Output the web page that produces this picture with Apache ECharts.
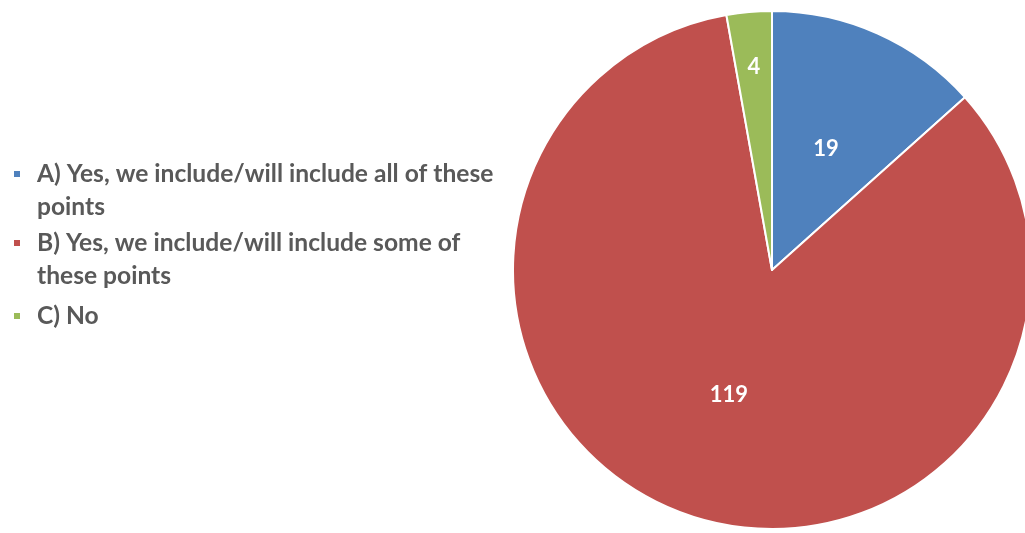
<!DOCTYPE html>
<html>
<head>
<meta charset="utf-8">
<script src="https://cdn.jsdelivr.net/npm/echarts@6/dist/echarts.min.js"></script>
<style>
  html, body { margin: 0; padding: 0; background: #ffffff; }
  #chart { width: 1025px; height: 533px; }
</style>
</head>
<body>
<div id="chart"></div>
<script>
// Survey answers and their response counts
const categories = [
  'A) Yes, we include/will include all of these points',
  'B) Yes, we include/will include some of these points',
  'C) No'
];
const counts = [19, 119, 4];
const colors = ['#4F81BD', '#C0504D', '#9BBB59'];

// y of each legend entry's first line
const legendTops = [174, 243, 316];

const FONT = 'Lato, "Open Sans", sans-serif';
const LEGEND_SIZE = 24.6;
const LINE_H = 33;
const WRAP_W = 470;

// word-wrap a legend name to the available width
const measurer = document.createElement('canvas').getContext('2d');
measurer.font = 'bold ' + LEGEND_SIZE + 'px ' + FONT;
function wrap(text) {
  const words = text.split(' ');
  const lines = [];
  let cur = '';
  words.forEach(w => {
    const test = cur ? cur + ' ' + w : w;
    if (cur && measurer.measureText(test).width > WRAP_W) {
      lines.push(cur);
      cur = w;
    } else {
      cur = test;
    }
  });
  if (cur) lines.push(cur);
  return lines;
}

const chart = echarts.init(document.getElementById('chart'), null, { renderer: 'canvas' });

// One legend block per category so each can be placed on its own line.
// Legend text is centred on the swatch, so blank lines are put in front
// to bring the first real line level with the swatch.
const legends = categories.map((name, i) => {
  const lines = wrap(name);
  const pad = lines.length - 1;
  const shown = new Array(pad).fill('').concat(lines);
  const boxH = LINE_H * shown.length;
  return {
    data: [name],
    orient: 'vertical',
    left: 12,
    top: legendTops[i] - boxH / 2,
    padding: 0,
    icon: 'rect',
    itemWidth: 8,
    itemHeight: 8,
    itemGap: 0,
    selectedMode: false,
    formatter: () => shown.join('\n'),
    textStyle: {
      fontFamily: FONT,
      fontWeight: 'bold',
      fontSize: LEGEND_SIZE,
      color: '#595959',
      lineHeight: LINE_H,
      padding: [0, 0, 0, 11]
    }
  };
});

const pieData = (showLabel) => categories.map((name, i) => ({
  name: name,
  value: counts[i],
  label: { show: showLabel(i) }
}));

const valueLabel = {
  position: 'inside',
  formatter: '{c}',
  color: '#ffffff',
  fontFamily: FONT,
  fontWeight: 'bold',
  fontSize: 22
};

chart.setOption({
  backgroundColor: '#ffffff',
  animation: false,
  color: colors,
  legend: legends,
  series: [
    {
      type: 'pie',
      center: [772, 270],
      radius: [0, 259],
      startAngle: 90,
      clockwise: true,
      avoidLabelOverlap: false,
      itemStyle: { borderColor: '#ffffff', borderWidth: 2 },
      emphasis: { disabled: true },
      label: valueLabel,
      labelLine: { show: false },
      data: pieData(i => i !== 2)
    },
    {
      // label carrier for the thin slice, set further out along its angle
      type: 'pie',
      silent: true,
      center: [772, 270],
      radius: [0, 402],
      startAngle: 90,
      clockwise: true,
      avoidLabelOverlap: false,
      itemStyle: { color: 'rgba(0,0,0,0)', borderWidth: 0 },
      emphasis: { disabled: true },
      label: valueLabel,
      labelLine: { show: false },
      z: 3,
      data: pieData(i => i === 2)
    }
  ]
});
</script>
</body>
</html>
